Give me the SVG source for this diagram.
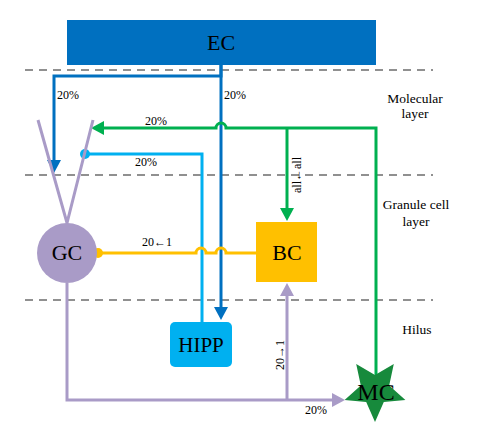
<svg xmlns="http://www.w3.org/2000/svg" width="480" height="439" viewBox="0 0 480 439">
<defs>
<style>
.t{font-family:"Liberation Serif","Times New Roman",serif;fill:#000}
.s{font-size:12px}
.l{font-size:13.5px}
.big{font-size:22px}
.dash{stroke:#222;stroke-width:1.2;stroke-dasharray:8,6;fill:none}
.blue{stroke:#0070C0;stroke-width:3;fill:none}
.lb{stroke:#00B0F0;stroke-width:3;fill:none}
.gr{stroke:#00B050;stroke-width:3;fill:none}
.pu{stroke:#A99BC7;stroke-width:3;fill:none}
.or{stroke:#FFC000;stroke-width:3;fill:none}
</style>
</defs>
<rect width="480" height="439" fill="#fff"/>
<g id="layers">
<line class="dash" x1="25" y1="70" x2="433" y2="70"/>
<line class="dash" x1="25" y1="175" x2="433" y2="175"/>
<line class="dash" x1="25" y1="300" x2="433" y2="300"/>
<text class="t l" x="415" y="103" text-anchor="middle">Molecular</text>
<text class="t l" x="415" y="118" text-anchor="middle">layer</text>
<text class="t l" x="416" y="209" text-anchor="middle">Granule cell</text>
<text class="t l" x="416" y="226" text-anchor="middle">layer</text>
<text class="t l" x="417" y="334" text-anchor="middle">Hilus</text>
</g>
<g id="connectors">
<path class="blue" d="M221 65 V76 H54 V160"/>
<polygon points="47,160 61,160 54,173" fill="#0070C0"/>
<path class="blue" d="M221 65 V308"/>
<polygon points="214,307 228,307 221,320" fill="#0070C0"/>
<text class="t s" x="57" y="99">20%</text>
<text class="t s" x="224" y="99">20%</text>
<path class="gr" d="M376 380 V128 H226 A5 5 0 0 0 216 128 H104"/>
<polygon points="104,121 104,135 91,128" fill="#00B050"/>
<path class="gr" d="M287 128 V208"/>
<polygon points="280,208 294,208 287,221" fill="#00B050"/>
<text class="t s" x="145" y="125">20%</text>
<text class="t s" transform="translate(301,175) rotate(-90)" text-anchor="middle">all←all</text>
<path class="lb" d="M85 154 H202 V322"/>
<circle cx="85" cy="154" r="5" fill="#00B0F0"/>
<text class="t s" x="135" y="166">20%</text>
<path class="or" d="M98 253 H196 A5 5 0 0 1 206 253 H216 A5 5 0 0 1 226 253 H256"/>
<circle cx="98" cy="253" r="5" fill="#FFC000"/>
<text class="t s" x="142" y="246">20←1</text>
<path class="pu" d="M67 283 V400 H332"/>
<polygon points="332,393 332,407 345,400" fill="#A99BC7"/>
<path class="pu" d="M287 400 V296"/>
<polygon points="280,296 294,296 287,283" fill="#A99BC7"/>
<text class="t s" x="305" y="414">20%</text>
<text class="t s" transform="translate(284,355) rotate(-90)" text-anchor="middle">20→1</text>
</g>
<g id="EC">
<rect x="67" y="20" width="309" height="45" fill="#0070C0"/>
<text class="t big" x="221" y="50" text-anchor="middle">EC</text>
</g>
<g id="GC">
<path class="pu" d="M38 120 L67 223 L93 120"/>
<circle cx="67" cy="253" r="30" fill="#A99BC7"/>
<text class="t big" x="67" y="260" text-anchor="middle">GC</text>
</g>
<g id="BC">
<rect x="256" y="222" width="61" height="60" fill="#FFC000"/>
<text class="t big" x="287" y="260" text-anchor="middle">BC</text>
</g>
<g id="HIPP">
<rect x="170" y="322" width="62" height="45" rx="5" fill="#00B0F0"/>
<text class="t" font-size="21" x="201" y="352" text-anchor="middle">HIPP</text>
</g>
<g id="MC">
<polygon points="375,422 366.2,402.1 344.6,399.9 360.8,385.4 356.2,364.1 375,375 393.8,364.1 389.2,385.4 405.4,399.9 383.8,402.1" fill="#178A3C"/>
<text class="t" font-size="24" x="376" y="400" text-anchor="middle">MC</text>
</g>
</svg>
